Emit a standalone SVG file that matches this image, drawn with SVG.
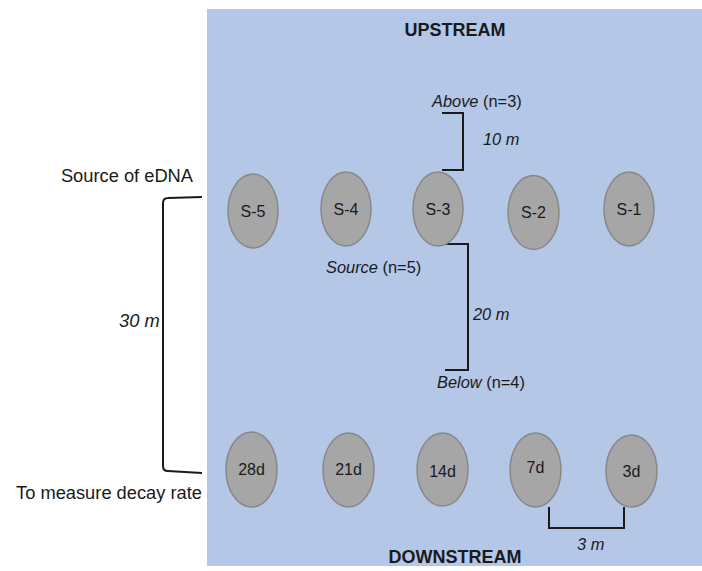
<svg xmlns="http://www.w3.org/2000/svg" width="702" height="571" viewBox="0 0 702 571">
<style>
text{font-family:"Liberation Sans",Arial,sans-serif;fill:#1a1a1a}
.lbl{font-size:16px;text-anchor:middle}
.side{font-size:18.3px}
.ann{font-size:16.4px}
.hdr{font-size:18px;font-weight:bold;text-anchor:middle}
.it{font-style:italic}
.nd{fill:#a6a6a6;stroke:#888;stroke-width:1.5}
.br{fill:none;stroke:#1a1a1a;stroke-width:2}
</style>
<rect x="207" y="9" width="495" height="557" fill="#b4c7e7"/>
<text class="hdr" x="455" y="36">UPSTREAM</text>
<text class="hdr" x="455" y="563">DOWNSTREAM</text>
<text class="side" x="193" y="182" text-anchor="end">Source of eDNA</text>
<text class="side" x="202" y="499" text-anchor="end">To measure decay rate</text>
<g id="connectors">
<path class="br" d="M442,113 H463 V170 H442"/>
<path class="br" d="M443,244 H468 V370 H445"/>
<path class="br" d="M202,197 L168,198 Q163,198 163,203 V466 Q163,471 168,471 L202,473"/>
<path class="br" d="M549,507 V528 H624 V507"/>
</g>
<text class="ann" x="432" y="107"><tspan class="it">Above</tspan> (n=3)</text>
<text class="ann it" x="483" y="145">10 m</text>
<text class="ann" x="326" y="273"><tspan class="it">Source</tspan> (n=5)</text>
<text class="ann it" x="473" y="320">20 m</text>
<text class="ann" x="437" y="388"><tspan class="it">Below</tspan> (n=4)</text>
<text class="side it" x="119" y="327">30 m</text>
<text class="ann it" x="577" y="550">3 m</text>
<g id="S-5"><ellipse class="nd" cx="253" cy="211" rx="25" ry="37"/><text class="lbl" x="253" y="217">S-5</text></g>
<g id="S-4"><ellipse class="nd" cx="346" cy="209" rx="25" ry="37"/><text class="lbl" x="346" y="215">S-4</text></g>
<g id="S-3"><ellipse class="nd" cx="438" cy="209" rx="25" ry="37"/><text class="lbl" x="438" y="215">S-3</text></g>
<g id="S-2"><ellipse class="nd" cx="533.5" cy="212.5" rx="25.5" ry="37"/><text class="lbl" x="533.5" y="218">S-2</text></g>
<g id="S-1"><ellipse class="nd" cx="629" cy="209" rx="25" ry="37"/><text class="lbl" x="629" y="215">S-1</text></g>
<g id="d28"><ellipse class="nd" cx="251.5" cy="469.5" rx="25.5" ry="37.5"/><text class="lbl" x="251.5" y="475">28d</text></g>
<g id="d21"><ellipse class="nd" cx="348.5" cy="470" rx="25.5" ry="37"/><text class="lbl" x="348.5" y="475">21d</text></g>
<g id="d14"><ellipse class="nd" cx="442.5" cy="469.5" rx="25.5" ry="36.5"/><text class="lbl" x="442.5" y="477">14d</text></g>
<g id="d7"><ellipse class="nd" cx="535.5" cy="470" rx="25.5" ry="37"/><text class="lbl" x="535.5" y="473">7d</text></g>
<g id="d3"><ellipse class="nd" cx="631.5" cy="471" rx="25.5" ry="36"/><text class="lbl" x="631.5" y="477">3d</text></g>
</svg>
